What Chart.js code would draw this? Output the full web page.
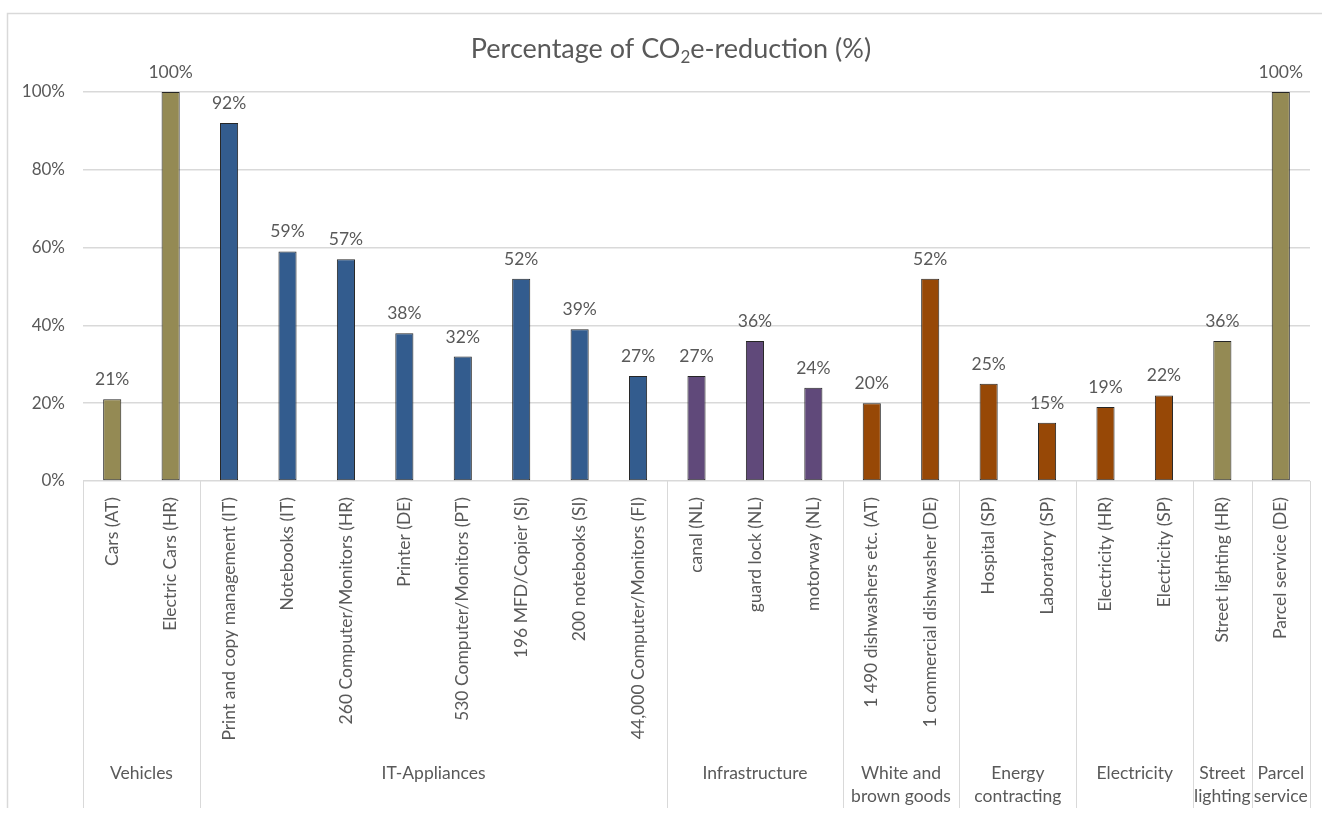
<!DOCTYPE html>
<html>
<head>
<meta charset="utf-8">
<title>Percentage of CO2e-reduction</title>
<script src="https://cdn.jsdelivr.net/npm/chart.js@4/dist/chart.umd.min.js"></script>
<style>
  html, body { margin: 0; padding: 0; background: #ffffff; }
  #wrap { width: 1322px; height: 813px; position: relative; }
</style>
</head>
<body>
<div id="wrap"><canvas id="c"></canvas></div>
<script>
// Measures (one bar per measure)
const categories = [
  'Cars (AT)', 'Electric Cars (HR)',
  'Print and copy management (IT)', 'Notebooks (IT)', '260 Computer/Monitors (HR)', 'Printer (DE)',
  '530 Computer/Monitors (PT)', '196 MFD/Copier (SI)', '200 notebooks (SI)', '44,000 Computer/Monitors (FI)',
  'canal (NL)', 'guard lock (NL)', 'motorway (NL)',
  '1 490 dishwashers etc. (AT)', '1 commercial dishwasher (DE)',
  'Hospital (SP)', 'Laboratory (SP)',
  'Electricity (HR)', 'Electricity (SP)',
  'Street lighting (HR)',
  'Parcel service (DE)'
];

// CO2e reduction in percent
const reduction = [
  21, 100,
  92, 59, 57, 38, 32, 52, 39, 27,
  27, 36, 24,
  20, 52,
  25, 15,
  19, 22,
  36,
  100
];

// Product groups: label lines and number of measures in each
const groupLabels = [
  ['Vehicles'], ['IT-Appliances'], ['Infrastructure'], ['White and', 'brown goods'],
  ['Energy', 'contracting'], ['Electricity'], ['Street', 'lighting'], ['Parcel', 'service']
];
const groupSizes = [2, 8, 3, 2, 2, 2, 1, 1];
const groupColors = ['#948A54', '#335C8E', '#60497A', '#974806', '#974806', '#974806', '#948A54', '#948A54'];

// Y axis ticks
const yTicks = [0, 20, 40, 60, 80, 100];

const TEXT = '#595959';
const LINE = '#d9d9d9';
const FONT = 'Lato, "Open Sans", sans-serif';

const barColors = [];
groupSizes.forEach((n, g) => { for (let i = 0; i < n; i++) barColors.push(groupColors[g]); });

const decorations = {
  id: 'decorations',
  afterDraw(chart) {
    const ctx = chart.ctx;
    const x = chart.scales.x;
    const area = chart.chartArea;
    const step = (x.right - x.left) / categories.length;

    ctx.save();
    // outer frame (top and left edges)
    ctx.strokeStyle = LINE;
    ctx.lineWidth = 1.5;
    ctx.beginPath();
    ctx.moveTo(7.5, 808);
    ctx.lineTo(7.5, 13.5);
    ctx.lineTo(1322, 13.5);
    ctx.stroke();

    // group separators below the axis
    ctx.lineWidth = 1;
    ctx.beginPath();
    let idx = 0;
    const bounds = [0];
    groupSizes.forEach(n => { idx += n; bounds.push(idx); });
    bounds.forEach(b => {
      const px = Math.round(x.left + b * step) + 0.5;
      ctx.moveTo(px, area.bottom);
      ctx.lineTo(px, 808);
    });
    ctx.stroke();

    // group labels
    ctx.fillStyle = TEXT;
    ctx.font = '17.5px ' + FONT;
    ctx.textAlign = 'center';
    ctx.textBaseline = 'middle';
    for (let g = 0; g < groupSizes.length; g++) {
      const cx = x.left + (bounds[g] + bounds[g + 1]) / 2 * step;
      groupLabels[g].forEach((line, k) => ctx.fillText(line, cx, 773 + k * 23));
    }

    // value labels above the bars
    const meta = chart.getDatasetMeta(0);
    ctx.textBaseline = 'alphabetic';
    meta.data.forEach((bar, i) => {
      ctx.fillText(Math.round(reduction[i]) + '%', bar.x, bar.y - 14);
    });

    // title with subscript 2
    const big = '27px ' + FONT, small = '17px ' + FONT;
    const p1 = 'Percentage of CO', p2 = '2', p3 = 'e-reduction (%)';
    ctx.font = big; const w1 = ctx.measureText(p1).width, w3 = ctx.measureText(p3).width;
    ctx.font = small; const w2 = ctx.measureText(p2).width;
    let tx = 671 - (w1 + w2 + w3) / 2;
    const ty = 58;
    ctx.textAlign = 'left';
    ctx.font = big; ctx.fillText(p1, tx, ty); tx += w1;
    ctx.font = small; ctx.fillText(p2, tx, ty + 5); tx += w2;
    ctx.font = big; ctx.fillText(p3, tx, ty);
    ctx.restore();
  }
};

new Chart(document.getElementById('c'), {
  type: 'bar',
  data: {
    labels: categories,
    datasets: [{
      data: reduction,
      backgroundColor: barColors,
      borderColor: '#262626',
      borderWidth: 1,
      borderSkipped: false,
      categoryPercentage: 1,
      barPercentage: 0.31
    }]
  },
  options: {
    responsive: true,
    maintainAspectRatio: false,
    animation: false,
    events: [],
    layout: { padding: { left: 0, right: 12, top: 92, bottom: 5 } },
    plugins: {
      legend: { display: false },
      title: { display: false },
      tooltip: { enabled: false }
    },
    scales: {
      x: {
        grid: { display: false },
        border: { display: false },
        ticks: {
          autoSkip: false,
          maxRotation: 90,
          minRotation: 90,
          padding: 8,
          color: TEXT,
          font: { family: FONT, size: 17.5 }
        },
        afterFit(scale) { scale.height = 327; }
      },
      y: {
        min: 0,
        max: 100,
        afterBuildTicks(scale) { scale.ticks = yTicks.map(v => ({ value: v })); },
        grid: { color: LINE, lineWidth: 1.5, drawTicks: false },
        border: { display: false },
        ticks: {
          padding: 18,
          color: TEXT,
          font: { family: FONT, size: 17 },
          callback: v => v + '%'
        },
        afterFit(scale) { scale.width = 83; }
      }
    }
  },
  plugins: [decorations]
});
</script>
</body>
</html>
